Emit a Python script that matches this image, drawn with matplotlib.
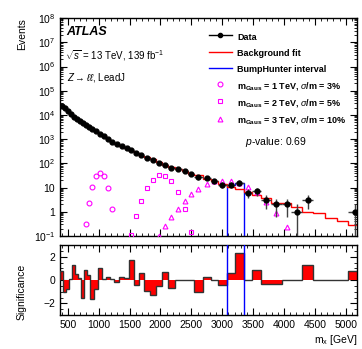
import numpy as np
import matplotlib
matplotlib.use("Agg")
import matplotlib.pyplot as plt
from matplotlib.lines import Line2D
from matplotlib.ticker import MultipleLocator, LogLocator, FixedLocator, NullFormatter

plt.rcParams["font.family"] = ["Liberation Sans", "DejaVu Sans"]
plt.rcParams["mathtext.fontset"] = "custom"
plt.rcParams["mathtext.rm"] = "Liberation Sans"
plt.rcParams["mathtext.it"] = "Liberation Sans:italic"
plt.rcParams["mathtext.bf"] = "Liberation Sans:bold"

# bin edges in GeV (variable width)
bin_edges = [375, 425, 470, 520, 570, 620, 665, 715, 765, 810, 860, 925, 990,
             1055, 1120, 1185, 1250, 1330, 1410, 1490, 1570, 1650, 1735, 1830,
             1925, 2025, 2120, 2235, 2345, 2445, 2540, 2685, 2815, 2930, 3070,
             3205, 3345, 3485, 3635, 3785, 3960, 4120, 4295, 4470, 4660, 4850,
             5035, 5260]

data_counts = [24000, 18600, 14100, 11000, 8500, 6760, 5500, 4570, 3890, 3240,
               2630, 2090, 1660, 1290, 1020, 794, 646, 513, 417, 345,
               269, 214, 166, 132, 107, 88, 66, 57, 47, 36,
               26, 25, 19, 13, 13, 16, 6, 7, 3, 2,
               2, 1, 3, 0, 0, 0, 1]

bkg_fit = [23880, 18740, 14195, 10990, 8380, 6720, 5485, 4670, 3835, 3215,
           2710, 2127, 1620, 1286, 1010, 791, 651, 506, 413, 315,
           275, 205, 178, 147, 112, 82, 72, 57, 47, 36,
           31.5, 23.5, 19, 14.5, 11, 8.5, 6.5, 5.0, 3.7, 2.4,
           2.2, 1.5, 1.0, 0.85, 0.55, 0.42, 0.27]

significance = [0.8, -1.0, -0.8, 0.1, 1.3, 0.5, 0.2, -1.5, 0.9, 0.4,
                -1.6, -0.8, 1.0, 0.1, 0.3, 0.1, -0.2, 0.3, 0.2, 1.7,
                -0.4, 0.6, -0.9, -1.3, -0.5, 0.7, -0.7, 0.0, 0.0, 0.0,
                -1.0, 0.3, 0.0, -0.4, 0.6, 2.3, 0.0, 0.9, -0.3, -0.3,
                0.0, 0.0, 1.3, 0.0, 0.0, 0.0, 0.8]

# signal templates: first bin index and per-bin yields
sig1_first = 8
sig1_vals = [0.32, 2.4, 10.7, 29, 41, 30, 9.8, 1.3]
sig2_first = 19
sig2_vals = [0.11, 0.66, 2.9, 9.3, 21, 32, 31, 19, 6.8, 1.3, 0.14]
sig3_first = 24
sig3_vals = [0.1, 0.25, 0.62, 1.3, 2.9, 5.2, 8.9, 13.8, 17.8, 19, 19, 16,
             11, 6.5, 2.6, 0.9, 0.24]

bh_lo, bh_hi = 3070, 3345
p_value = 0.69

edges = np.array(bin_edges, dtype=float)
centers = 0.5 * (edges[:-1] + edges[1:])
halfw = 0.5 * np.diff(edges)
counts = np.array(data_counts, dtype=float)

fig = plt.figure(figsize=(3.62, 3.49), dpi=100)
ax = fig.add_axes([0.166, 0.324, 0.820, 0.624])
ax2 = fig.add_axes([0.166, 0.097, 0.820, 0.201], sharex=ax)

magenta = "#ff00ff"

# BumpHunter interval (drawn as data histogram in the interval bins)
in_bh = (edges[:-1] >= bh_lo - 1) & (edges[1:] <= bh_hi + 1)
bh_edges = np.append(edges[:-1][in_bh], edges[1:][in_bh][-1])
ax.stairs(counts[in_bh], bh_edges, baseline=1e-4, color="blue", lw=1.0, zorder=2)

# background fit
ax.stairs(bkg_fit, edges, baseline=None, color="red", lw=1.0, zorder=3)

# signals
for first, vals, mk in [(sig1_first, sig1_vals, "o"),
                        (sig2_first, sig2_vals, "s"),
                        (sig3_first, sig3_vals, "^")]:
    ax.plot(centers[first:first + len(vals)], vals, ls="none", marker=mk,
            ms=3.5, mfc="none", mec=magenta, mew=0.8, zorder=4)

# data
m = counts > 0
err = np.sqrt(counts[m])
ax.errorbar(centers[m], counts[m], xerr=halfw[m], yerr=[err, err],
            fmt="o", color="black", ms=3.5, ecolor="0.25", elinewidth=1.0,
            capsize=0, zorder=5)

ax.set_yscale("log")
ax.set_ylim(0.1, 1e8)
ax.set_xlim(375, 5180)
ax.yaxis.set_major_locator(FixedLocator([10.0 ** k for k in range(-1, 9)]))
ax.set_yticklabels([r"$10^{-1}$", "1", "10"] + [r"$10^{%d}$" % k for k in range(2, 9)])
ax.yaxis.set_minor_locator(LogLocator(base=10, subs=np.arange(2, 10), numticks=30))
ax.yaxis.set_minor_formatter(NullFormatter())
ax.xaxis.set_major_locator(MultipleLocator(500))
ax.xaxis.set_minor_locator(MultipleLocator(100))
ax.tick_params(axis="x", labelbottom=False)

for a in (ax, ax2):
    a.tick_params(which="both", direction="in", top=True, right=True, labelsize=7.5)
    a.tick_params(which="major", length=5, width=0.8)
    a.tick_params(which="minor", length=2.5, width=0.6)
    for s in a.spines.values():
        s.set_linewidth(1.0)

# legend
handles = [
    Line2D([], [], color="black", marker="o", ms=3, lw=1.0),
    Line2D([], [], color="red", lw=1.0),
    Line2D([], [], color="blue", lw=1.0),
    Line2D([], [], ls="none", marker="o", ms=3.5, mfc="none", mec=magenta, mew=0.8),
    Line2D([], [], ls="none", marker="s", ms=3.5, mfc="none", mec=magenta, mew=0.8),
    Line2D([], [], ls="none", marker="^", ms=3.5, mfc="none", mec=magenta, mew=0.8),
]
labels = [
    "Data",
    "Background fit",
    "BumpHunter interval",
    r"$\mathbf{m_{Gaus}}$ = 1 TeV, $\sigma$/m = 3%",
    r"$\mathbf{m_{Gaus}}$ = 2 TeV, $\sigma$/m = 5%",
    r"$\mathbf{m_{Gaus}}$ = 3 TeV, $\sigma$/m = 10%",
]
leg = ax.legend(handles, labels, loc="upper left", bbox_to_anchor=(0.5, 0.94),
                frameon=False, handlelength=2.6, handletextpad=0.6,
                handleheight=1.5, labelspacing=0.58, borderpad=0, borderaxespad=0,
                prop={"weight": "bold", "size": 6.5})

ax.text(0.623, 0.431, r"$p$-value: %.2f" % p_value, transform=ax.transAxes,
        fontsize=7.5, va="center")
ax.text(0.022, 0.936, "ATLAS", transform=ax.transAxes, fontsize=9,
        fontweight="bold", fontstyle="italic", va="center")
ax.text(0.018, 0.83, r"$\sqrt{s}$ = 13 TeV, 139 fb$^{-1}$", transform=ax.transAxes,
        fontsize=7, va="center")
ax.text(0.022, 0.729, r"$Z\rightarrow\ell\ell$, LeadJ", transform=ax.transAxes,
        fontsize=7, va="center")

# significance panel
ax2.stairs(significance, edges, baseline=0, fill=True, color="red", zorder=2)
ax2.stairs(significance, edges, baseline=0, color="0.2", lw=1.0, zorder=3)
ax2.axvline(bh_lo, color="blue", lw=1.0, zorder=4)
ax2.axvline(bh_hi, color="blue", lw=1.0, zorder=4)
ax2.set_ylim(-3, 3)
ax2.set_yticks([-2, 0, 2])
ax2.yaxis.set_minor_locator(MultipleLocator(0.5))

fig.text(0.06, 0.948, "Events", rotation=90, ha="center", va="top", fontsize=7.5)
fig.text(0.06, 0.163, "Significance", rotation=90, ha="center", va="center", fontsize=7.5)
fig.text(0.986, 0.026, r"m$_{\mathrm{x}}$ [GeV]", ha="right", va="center", fontsize=7.5)

fig.savefig("out.png", dpi=100)
